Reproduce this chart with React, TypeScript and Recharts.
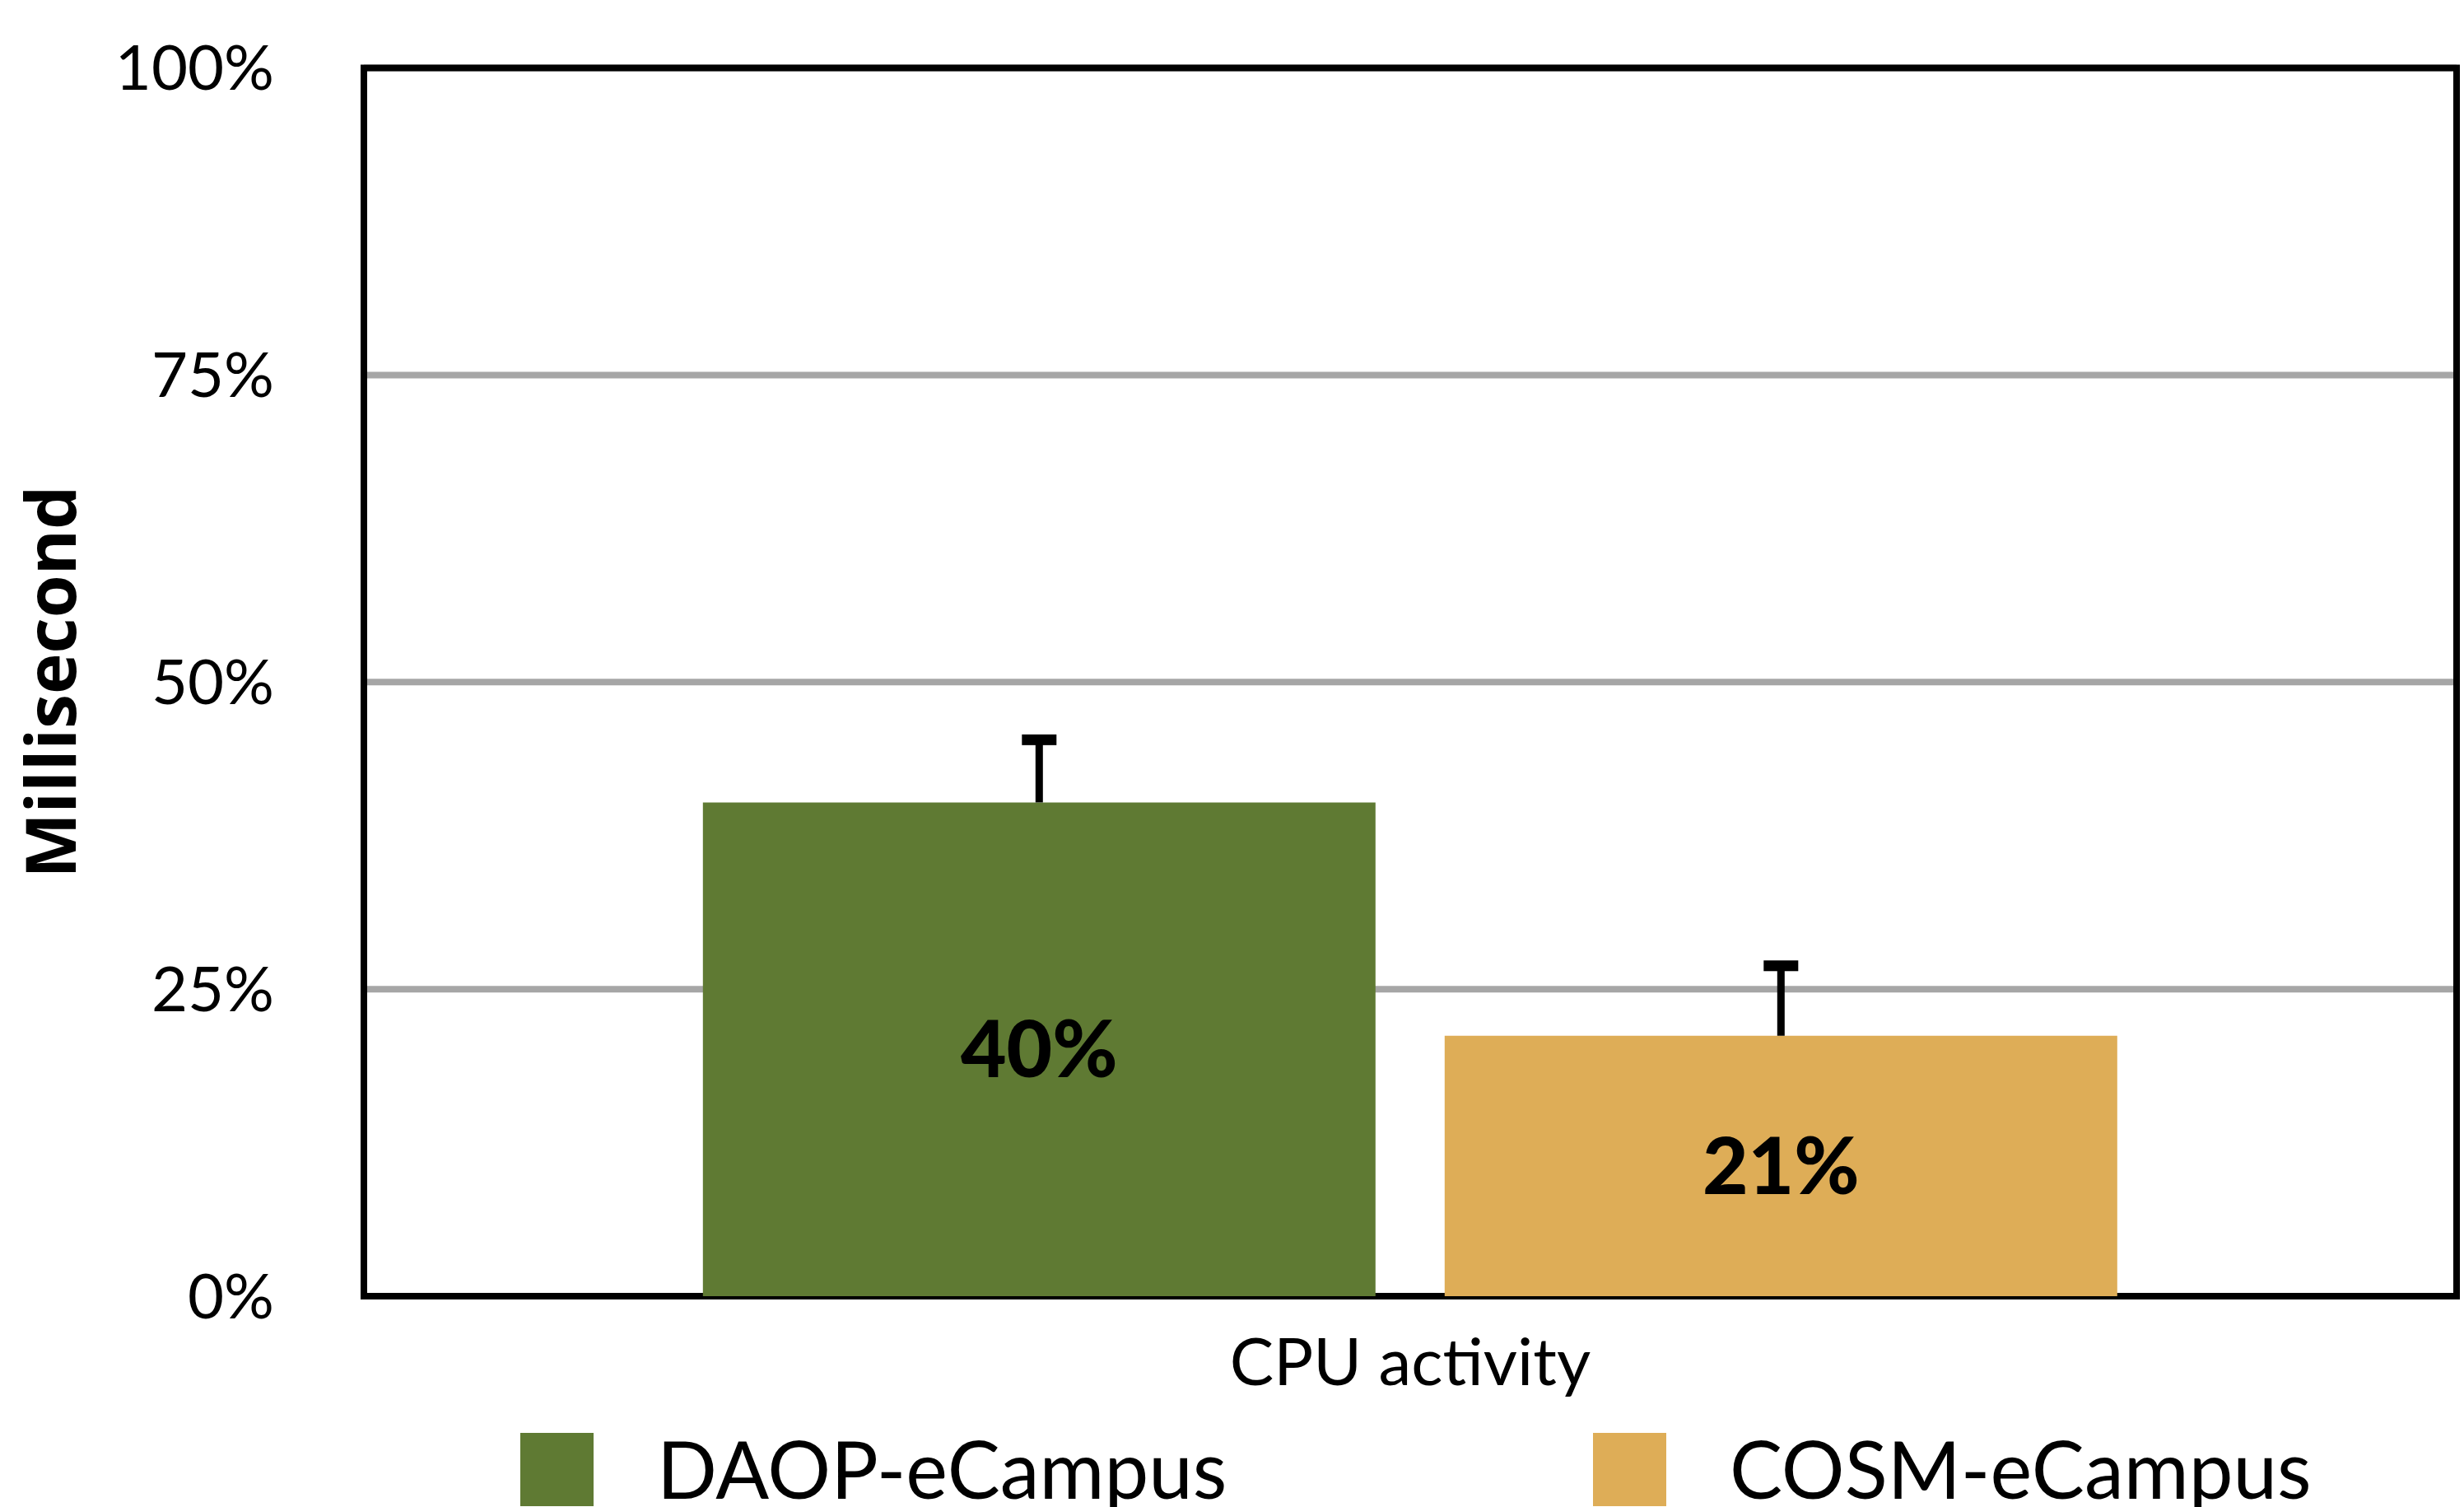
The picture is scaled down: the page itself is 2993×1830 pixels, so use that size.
import React from "react";
import {
  BarChart,
  Bar,
  XAxis,
  YAxis,
  CartesianGrid,
  Legend,
  LabelList,
  ReferenceArea,
  Rectangle,
} from "recharts";

const categories = ["CPU activity"];
const seriesNames = ["DAOP-eCampus", "COSM-eCampus"];
const daopValues = [40.2];
const cosmValues = [21.2];
const daopErrors = [5.1];
const cosmErrors = [5.7];
const yTicks = [0, 25, 50, 75, 100];

const COLORS = {
  daop: "#5F7A33", // green
  cosm: "#DEAD57", // orange
};

const data = categories.map((name, i) => ({
  name,
  daop: daopValues[i],
  cosm: cosmValues[i],
}));

const FONT = "Lato, 'Open Sans', sans-serif";

// bar with an upper-only error whisker, sized from the bar's own scale
const withError = (values: number[], errors: number[]) => (props: any) => {
  const { x, y, width, height, fill, index } = props;
  const pxPerUnit = height / values[index];
  const top = y - errors[index] * pxPerUnit;
  const cx = x + width / 2;
  return (
    <g>
      <Rectangle x={x} y={y} width={width} height={height} fill={fill} />
      <line x1={cx} x2={cx} y1={y} y2={top} stroke="#000" strokeWidth={9} />
      <rect x={cx - 21} y={top - 6.5} width={42} height={13} fill="#000" />
    </g>
  );
};

const YTitle = ({ viewBox }: any) => {
  const cy = viewBox.y + viewBox.height / 2;
  return (
    <text
      x={92}
      y={cy}
      transform={`rotate(-90, 92, ${cy})`}
      textAnchor="middle"
      fontFamily="'Open Sans', sans-serif"
      fontWeight={700}
      fontSize={84}
      fill="#000"
    >
      Millisecond
    </text>
  );
};

const renderLegend = ({ payload }: any) => {
  const items = [...(payload || [])].sort(
    (a: any, b: any) => seriesNames.indexOf(a.value) - seriesNames.indexOf(b.value)
  );
  return (
    <div style={{ display: "flex", fontFamily: FONT }}>
      {items.map((p: any) => (
        <div key={p.value} style={{ display: "flex", width: 1303, flexShrink: 0 }}>
          <div
            style={{
              width: 89,
              height: 89,
              marginTop: 15,
              background: p.color,
              flexShrink: 0,
            }}
          />
          <span
            style={{
              marginLeft: 77,
              fontSize: 96,
              lineHeight: 1.2,
              color: "#000",
              whiteSpace: "nowrap",
            }}
          >
            {p.value}
          </span>
        </div>
      ))}
    </div>
  );
};

export default function App() {
  return (
    <div
      style={{
        position: "fixed",
        left: 0,
        top: 0,
        width: 2993,
        height: 1830,
        overflow: "hidden",
        background: "#fff",
      }}
    >
      <BarChart
        width={2993}
        height={1830}
        data={data}
        margin={{ top: 82.5, right: 9, left: 0, bottom: 0 }}
        barCategoryGap="16.2%"
        barGap={84}
      >
        <CartesianGrid vertical={false} stroke="#A6A6A6" strokeWidth={8} />
        <XAxis
          dataKey="name"
          height={256}
          axisLine={false}
          tickLine={false}
          tickSize={0}
          tickMargin={51}
          tick={{ fontSize: 80, fill: "#000", fontFamily: FONT }}
        />
        <YAxis
          domain={[0, 100]}
          ticks={yTicks}
          tickFormatter={(v) => `${v}%`}
          width={442}
          axisLine={false}
          tickLine={false}
          tickSize={0}
          tickMargin={109}
          tick={{ fontSize: 76, fill: "#000", fontFamily: FONT }}
          label={{ content: YTitle }}
        />
        <Bar
          dataKey="daop"
          name={seriesNames[0]}
          fill={COLORS.daop}
          shape={withError(daopValues, daopErrors)}
          isAnimationActive={false}
        >
          <LabelList
            dataKey="daop"
            position="center"
            formatter={(v: any) => `${Math.round(v)}%`}
            style={{ fontSize: 96, fontWeight: 900, fill: "#000", fontFamily: FONT }}
          />
        </Bar>
        <Bar
          dataKey="cosm"
          name={seriesNames[1]}
          fill={COLORS.cosm}
          shape={withError(cosmValues, cosmErrors)}
          isAnimationActive={false}
        >
          <LabelList
            dataKey="cosm"
            position="center"
            formatter={(v: any) => `${Math.round(v)}%`}
            style={{ fontSize: 96, fontWeight: 900, fill: "#000", fontFamily: FONT }}
          />
        </Bar>
        <ReferenceArea y1={0} y2={100} fill="none" stroke="#000" strokeWidth={8} />
        <Legend
          layout="horizontal"
          verticalAlign="middle"
          align="center"
          wrapperStyle={{ top: 1725, left: 632, width: 2361 }}
          content={renderLegend}
        />
      </BarChart>
    </div>
  );
}
